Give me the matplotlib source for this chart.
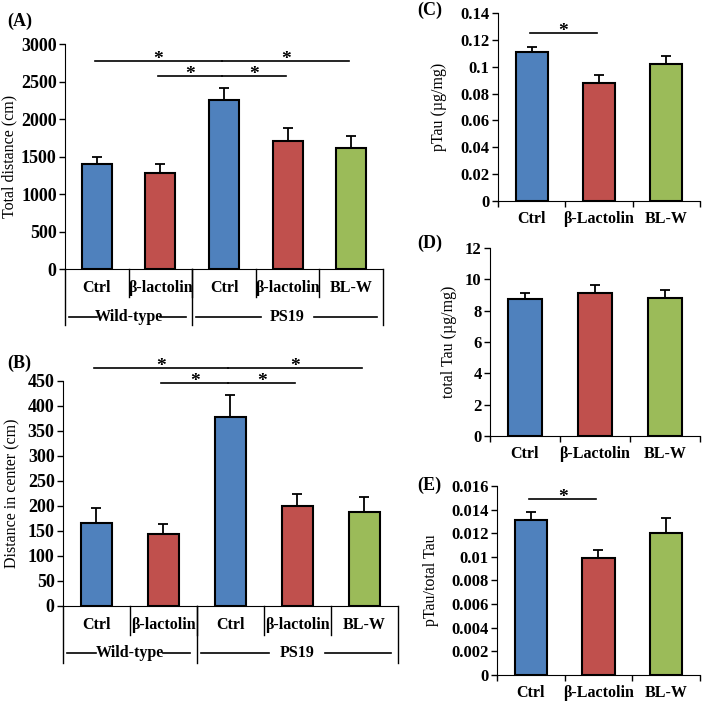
import numpy as np
import matplotlib.pyplot as plt

plt.rcParams['font.family'] = ['Liberation Serif', 'DejaVu Serif']

BLUE = '#4F81BD'
RED = '#C0504D'
GREEN = '#9BBB59'

# open field data (A, B)
of_labels = ['Ctrl', 'β-lactolin', 'Ctrl', 'β-lactolin', 'BL-W']
of_colors = [BLUE, RED, BLUE, RED, GREEN]
groups = ['Wild-type', 'PS19']
group_spans = [(0, 2), (2, 5)]

total_dist = [1400, 1280, 2260, 1710, 1620]
total_dist_err = [90, 120, 160, 170, 160]
center_dist = [166, 143, 377, 200, 187]
center_dist_err = [30, 20, 45, 24, 31]

# significance bars: (from bar, to bar, height)
sig_a = [(0, 2, 2775), (1, 2, 2575), (2, 4, 2775), (2, 3, 2575)]
sig_b = [(0, 2, 476), (1, 2, 446), (2, 4, 476), (2, 3, 446)]

# tau data (C, D, E)
tau_labels = ['Ctrl', 'β-Lactolin', 'BL-W']
tau_colors = [BLUE, RED, GREEN]
ptau = [0.111, 0.088, 0.102]
ptau_err = [0.004, 0.006, 0.006]
ttau = [8.75, 9.15, 8.8]
ttau_err = [0.4, 0.5, 0.5]
ratio = [0.0131, 0.0099, 0.0120]
ratio_err = [0.0007, 0.0007, 0.0013]
sig_c = [(0, 1, 0.125)]
sig_e = [(0, 1, 0.0149)]

cat_font = dict(family='Liberation Serif', weight='bold', size=11.5)


def style_y(ax, ymax, step, fmt, ylabel, lx, tsize):
    ax.set_ylim(0, ymax)
    ticks = np.arange(0, ymax + step / 2, step)
    ax.set_yticks(ticks)
    ax.set_yticklabels([fmt(t) for t in ticks], family='Liberation Serif',
                       weight='bold', size=tsize)
    ax.tick_params(axis='y', direction='out', length=4, width=1, pad=2)
    ax.set_ylabel(ylabel, fontsize=11.5)
    ax.yaxis.set_label_coords(lx, 0.5)
    for s in ['top', 'right']:
        ax.spines[s].set_visible(False)


def add_sig(ax, sig, xs):
    for i, j, h in sig:
        x0, x1 = xs[i] - 0.03, xs[j] - 0.03
        ax.plot([x0, x1], [h, h], color='black', lw=1.2, clip_on=False)
        ax.annotate('*', ((x0 + x1) / 2, h), xytext=(0, -2.3), textcoords='offset points',
                    ha='center', va='baseline', fontsize=14, fontweight='bold',
                    annotation_clip=False)


def open_field(ax, vals, errs, sig, ymax, step, ylabel, lx, lab_y, div1, div2, grp_y):
    xs = np.arange(len(vals)) + 0.5
    ax.bar(xs, vals, width=0.47, color=of_colors, edgecolor='black', linewidth=1.5,
           zorder=2)
    ax.errorbar(xs, vals, yerr=[np.zeros(len(vals)), errs], fmt='none',
                ecolor='black', elinewidth=1.3, capsize=3.5, capthick=1.3, zorder=1)
    ax.set_xlim(0, len(vals))
    ax.set_xticks([])
    style_y(ax, ymax, step, lambda t: '%d' % t, ylabel, lx, 13)
    ax.spines['left'].set_bounds(0, ymax)
    tr = ax.get_xaxis_transform()
    for x, lab in zip(xs, of_labels):
        ax.text(x, lab_y, lab, transform=tr, ha='center', va='center', **cat_font)
    for k in range(1, len(vals)):
        ax.plot([k, k], [0, div1], transform=tr, color='black', lw=1, clip_on=False)
    for k in [0, 2, len(vals)]:
        ax.plot([k, k], [0, div2], transform=tr, color='black', lw=1, clip_on=False)
    for g, (a, b) in zip(groups, group_spans):
        c = (a + b) / 2
        gap = 0.42 if g == 'PS19' else 0.5
        ax.text(c, grp_y, g, transform=tr, ha='center', va='center', **cat_font)
        ax.plot([a + 0.06, c - gap], [grp_y, grp_y], transform=tr, color='black',
                lw=1.2, clip_on=False)
        ax.plot([c + gap, b - 0.1], [grp_y, grp_y], transform=tr, color='black',
                lw=1.2, clip_on=False)
    add_sig(ax, sig, xs)


def tau_panel(ax, vals, errs, sig, ymax, step, fmt, ylabel, lx):
    xs = np.arange(len(vals)) + 0.5
    ax.bar(xs, vals, width=0.48, color=tau_colors, edgecolor='black', linewidth=1.5,
           zorder=2)
    ax.errorbar(xs, vals, yerr=[np.zeros(len(vals)), errs], fmt='none',
                ecolor='black', elinewidth=1.3, capsize=3.5, capthick=1.3, zorder=1)
    ax.set_xlim(0, len(vals))
    ax.set_xticks(np.arange(len(vals) + 1))
    ax.set_xticklabels([])
    ax.set_xticks(xs, minor=True)
    ax.set_xticklabels(tau_labels, minor=True, **cat_font)
    ax.tick_params(axis='x', which='major', direction='out', length=4, width=1)
    ax.tick_params(axis='x', which='minor', length=0, pad=7)
    style_y(ax, ymax, step, fmt, ylabel, lx, 12)
    if sig:
        add_sig(ax, sig, xs)


fig = plt.figure(figsize=(7.02, 7.02), dpi=100)

ax_a = fig.add_axes([0.0926, 0.6168, 0.453, 0.3205])
open_field(ax_a, total_dist, total_dist_err, sig_a, 3000, 500, 'Total distance (cm)',
           -0.151, -0.084, -0.124, -0.249, -0.213)

ax_b = fig.add_axes([0.0897, 0.1368, 0.477, 0.3209])
open_field(ax_b, center_dist, center_dist_err, sig_b, 450, 50, 'Distance in center (cm)',
           -0.128, -0.084, -0.129, -0.253, -0.209)

ax_c = fig.add_axes([0.7094, 0.7137, 0.2877, 0.2678])
tau_panel(ax_c, ptau, ptau_err, sig_c, 0.14, 0.02, lambda t: '%g' % round(t, 2),
          'pTau (µg/mg)', -0.252)

ax_d = fig.add_axes([0.698, 0.3789, 0.299, 0.2678])
tau_panel(ax_d, ttau, ttau_err, None, 12, 2, lambda t: '%d' % t,
          'total Tau (µg/mg)', -0.157)

ax_e = fig.add_axes([0.708, 0.0385, 0.289, 0.2692])
tau_panel(ax_e, ratio, ratio_err, sig_e, 0.016, 0.002, lambda t: '%g' % round(t, 3),
          'pTau/total Tau', -0.286)

for lab, x, y in [('(A)', 0.01, 0.969), ('(B)', 0.011, 0.483), ('(C)', 0.594, 0.985),
                  ('(D)', 0.594, 0.654), ('(E)', 0.594, 0.309)]:
    fig.text(x, y, lab, fontsize=13, fontweight='bold', va='center')

fig.savefig('out.png', dpi=100)
